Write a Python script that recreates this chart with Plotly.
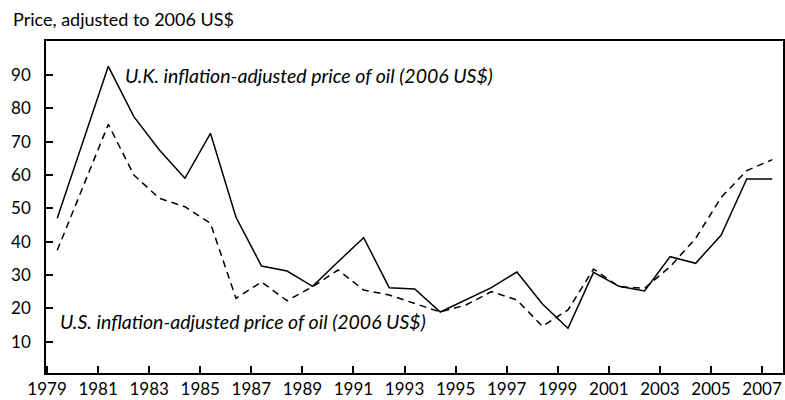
import plotly.graph_objects as go

# Annual real oil prices, 2006 US$
years = list(range(1979, 2008))
uk_price = [47, 70, 92.6, 77.5, 67.5, 59, 72.5, 47.3, 32.7, 31.2,
            26.6, 34, 41.2, 26.2, 25.8, 18.9, 22.5, 26.2, 30.9, 21.3,
            14, 30.8, 26.6, 25.2, 35.5, 33.5, 42, 58.8, 58.8]
us_price = [37.4, 56.3, 75.2, 60, 53, 50.5, 45.5, 23, 27.9, 22.3,
            26.5, 31.5, 25.5, 24, 21.5, 18.9, 21, 25, 22.5, 14.6,
            19.5, 31.8, 26.5, 26, 32.5, 41, 53.3, 61.3, 64.6]
tick_years = list(range(1979, 2008, 2))
y_ticks = [10, 20, 30, 40, 50, 60, 70, 80, 90]

uk_label = "U.K. inflation-adjusted price of oil (2006 US$)"
us_label = "U.S. inflation-adjusted price of oil (2006 US$)"

# annual values are drawn a little into each year
x_pos = [y + 0.4 for y in years]

ink = "#000000"

fig = go.Figure()
fig.add_trace(go.Scatter(x=x_pos, y=uk_price, mode="lines", name="U.K.",
                         line=dict(color=ink, width=1.5)))
fig.add_trace(go.Scatter(x=x_pos, y=us_price, mode="lines", name="U.S.",
                         line=dict(color=ink, width=1.5, dash="7px,5px")))

fig.add_annotation(x=1981.97, y=90, text=uk_label, showarrow=False,
                   xanchor="left", yanchor="middle",
                   font=dict(family="Lato", size=19.5, color=ink, style="italic"))
fig.add_annotation(x=1979.43, y=16, text=us_label, showarrow=False,
                   xanchor="left", yanchor="middle",
                   font=dict(family="Lato", size=19.5, color=ink, style="italic"))

fig.update_layout(
    width=785, height=400,
    margin=dict(l=46, r=2, t=41, b=27, autoexpand=False),
    paper_bgcolor="white", plot_bgcolor="white",
    showlegend=False,
    title=dict(text="Price, adjusted to 2006 US$", xref="container", yref="container",
               x=13 / 785, xanchor="left", y=1 - 20 / 400, yanchor="middle",
               font=dict(family="Lato", size=18, color=ink)),
    font=dict(family="Lato", color=ink),
)
fig.update_xaxes(range=[1978.96, 2007.82], tickvals=tick_years,
                 ticktext=[str(t) for t in tick_years],
                 showgrid=False, zeroline=False, showline=True, linecolor=ink,
                 linewidth=1.5, mirror=True, ticks="inside", ticklen=7,
                 tickwidth=1.5, tickcolor=ink, ticklabelstandoff=0,
                 tickfont=dict(family="Lato", size=17, color=ink))
fig.update_yaxes(range=[0.6, 100.2], tickvals=y_ticks,
                 showgrid=False, zeroline=False, showline=True, linecolor=ink,
                 linewidth=1.5, mirror=True, ticks="inside", ticklen=7,
                 tickwidth=1.5, tickcolor=ink, ticklabelstandoff=10,
                 tickfont=dict(family="Lato", size=17, color=ink))

# the page body has a default margin; drop it so the figure sits at 0,0
fig.write_html("out.html", config={"displayModeBar": False},
               post_script="document.body.style.margin='0';")
